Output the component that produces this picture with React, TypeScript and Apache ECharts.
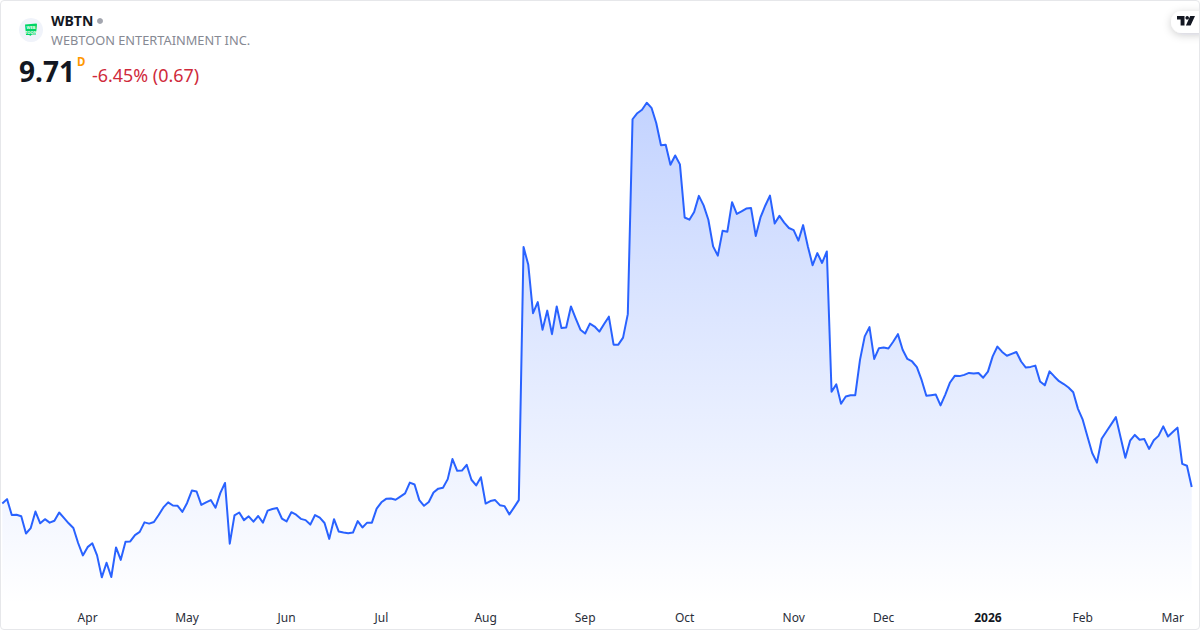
import React, { useEffect, useRef } from "react";
import * as echarts from "echarts";

const ticker = "WBTN";
const companyName = "WEBTOON ENTERTAINMENT INC.";
const lastPrice = "9.71";
const interval = "D";
const changeText = "-6.45% (0.67)";

const pricesA = [
  9.19, 9.33, 8.83, 8.84, 8.79, 8.25, 8.42, 8.94, 8.57, 8.7, 8.59, 8.65, 8.91, 8.74, 8.57, 8.42, 7.95, 7.56, 7.82, 7.94,
  7.56, 6.87, 7.33, 6.88, 7.81, 7.42, 7.99, 8.0, 8.2, 8.3, 8.6, 8.56, 8.61, 8.83, 9.07, 9.23, 9.13, 9.12, 8.93, 9.21,
  9.6, 9.57, 9.15, 9.23, 9.3, 9.06, 9.52, 9.84, 7.93, 8.82, 8.91, 8.67, 8.79, 8.62, 8.8, 8.59, 8.97, 9.02, 9.05, 8.72,
  8.63, 8.92, 8.84, 8.71, 8.67, 8.53, 8.83, 8.75, 8.58, 8.08, 8.7, 8.31, 8.28, 8.26, 8.28, 8.64, 8.44, 8.59, 8.59, 9.03,
  9.23, 9.34, 9.35, 9.31, 9.41, 9.51, 9.85, 9.79, 9.3, 9.12, 9.24, 9.54, 9.66, 9.69, 9.96, 10.59, 10.22, 10.23, 10.41, 9.94,
  9.76, 10.02, 9.19, 9.27, 9.3, 9.14, 9.11, 8.85, 9.07, 9.3,
];
const pricesB = [
  17.26, 16.7, 15.18, 15.53, 14.66, 15.26, 14.52, 15.39, 14.71, 14.73, 15.39, 15.02, 14.66, 14.54, 14.85, 14.76, 14.6, 14.84, 15.07, 14.19,
  14.19, 14.41, 15.15, 21.28, 21.47, 21.58, 21.8, 21.64, 21.16, 20.46, 20.48, 19.85, 20.14, 19.86, 18.19, 18.12, 18.36, 18.87, 18.57, 18.12,
  17.28, 16.99, 17.77, 17.74, 18.67, 18.3, 18.38, 18.47, 18.49, 17.61, 18.19, 18.56, 18.88, 18.0, 18.24, 18.03, 17.86, 17.79, 17.46, 17.95,
  17.28, 16.69, 17.07, 16.76, 17.12,
];
const pricesC = [
  12.71, 12.94, 12.33, 12.56, 12.6, 12.6, 13.71, 14.45, 14.74, 13.74, 14.08, 14.1, 14.07, 14.28, 14.52, 14.03, 13.74, 13.66, 13.48, 13.08,
  12.58, 12.6, 12.62, 12.28, 12.62, 13.0, 13.21, 13.2, 13.24, 13.3, 13.28, 13.3, 13.15, 13.34, 13.82, 14.13, 13.96, 13.84, 13.9, 13.96,
  13.66, 13.47, 13.49, 13.53, 13.03, 12.91, 13.35, 13.19, 13.04, 12.95, 12.84, 12.69, 12.17, 11.83, 11.3, 10.78, 10.48, 11.23, 11.46, 11.68,
  11.91, 11.27, 10.63, 11.17, 11.35, 11.2, 11.22, 10.91, 11.18, 11.32, 11.62, 11.3, 11.44, 11.58, 10.44, 10.38, 9.71,
];
const prices = [...pricesA, ...pricesB, ...pricesC];
const sessions = prices.map((_, i) => String(i));

const tickSessions = [18, 39, 60, 80, 102, 123, 144, 167, 186, 208, 228, 247];
const tickLabels = ["Apr", "May", "Jun", "Jul", "Aug", "Sep", "Oct", "Nov", "Dec", "2026", "Feb", "Mar"];
const boldTicks = ["2026"];

const FONT = '"Noto Sans", sans-serif';

echarts.graphic.registerShape(
  "tvMark",
  echarts.graphic.extendPath(
    "M0 0H7.5V9.5H3.6V3.6H0ZM10.2 0A1.8 1.8 0 1 1 10.19 0ZM13.2 0H18L13.6 9.5H8.9Z",
    {}
  )
);

export default function App() {
  const ref = useRef<HTMLDivElement>(null);
  useEffect(() => {
    document.body.style.margin = "0";
    const chart = echarts.init(ref.current!, null, { renderer: "svg" });
    chart.setOption({
      animation: false,
      backgroundColor: "#ffffff",
      grid: { left: 2.3, right: 8.3, top: 1, bottom: 25, containLabel: false },
      xAxis: {
        type: "category",
        data: sessions,
        boundaryGap: false,
        axisLine: { show: false },
        axisTick: { show: false },
        splitLine: { show: false },
        axisLabel: {
          margin: 6,
          fontFamily: FONT,
          fontSize: 12,
          color: "#2a2e39",
          hideOverlap: false,
          interval: (i: number) => tickSessions.includes(i),
          formatter: (_v: string, i: number) => {
            const label = tickLabels[tickSessions.indexOf(i)] ?? "";
            return boldTicks.includes(label) ? `{b|${label}}` : label;
          },
          rich: { b: { fontFamily: FONT, fontSize: 12, fontWeight: 700, color: "#131722" } },
        },
      },
      yAxis: {
        type: "value",
        min: 6,
        max: 25,
        show: false,
        splitLine: { show: false },
      },
      series: [
        {
          type: "line",
          data: prices,
          showSymbol: false,
          symbol: "none",
          smooth: false,
          lineStyle: { color: "#2962ff", width: 2, join: "round" },
          areaStyle: {
            opacity: 1,
            color: new echarts.graphic.LinearGradient(0, 0, 0, 1, [
              { offset: 0, color: "rgba(41,98,255,0.28)" },
              { offset: 1, color: "rgba(41,98,255,0)" },
            ]),
          },
          silent: true,
        },
      ],
      graphic: [
        { type: "circle", shape: { cx: 31, cy: 30, r: 12 }, style: { fill: "#f0f3fa" } },
        {
          type: "polygon",
          shape: { points: [[25, 24.5], [36.5, 23.5], [37, 24.5], [36, 34.5], [32, 34.5], [30, 36], [29.5, 35], [26, 35]] },
          style: { fill: "#00d564" },
        },
        { type: "text", x: 31, y: 27.8, style: { text: "WEB", fill: "#ffffff", font: `700 4px ${FONT}`, align: "center", verticalAlign: "middle" } },
        { type: "text", x: 31, y: 32, style: { text: "TOON", fill: "#ffffff", font: `700 4px ${FONT}`, align: "center", verticalAlign: "middle" } },
        { type: "text", x: 51, y: 20.5, style: { text: ticker, fill: "#131722", font: `700 14px ${FONT}`, verticalAlign: "middle" } },
        { type: "circle", shape: { cx: 100, cy: 21, r: 3 }, style: { fill: "#a3a6af" } },
        { type: "text", x: 51, y: 40, style: { text: companyName, fill: "#868993", font: `400 12.8px ${FONT}`, verticalAlign: "middle" } },
        { type: "text", x: 19, y: 71, style: { text: lastPrice, fill: "#131722", font: `700 28px ${FONT}`, verticalAlign: "middle" } },
        { type: "text", x: 77, y: 61, style: { text: interval, fill: "#ff9800", font: `700 11.5px ${FONT}`, verticalAlign: "middle" } },
        { type: "text", x: 92, y: 74.5, style: { text: changeText, fill: "#cf2a3b", font: `400 17.9px ${FONT}`, verticalAlign: "middle" } },
        {
          type: "rect",
          shape: { x: 1171, y: 11, width: 40, height: 22, r: 11 },
          style: { fill: "#ffffff", shadowBlur: 9, shadowColor: "rgba(19,23,34,0.2)", shadowOffsetY: 2 },
        },
        { type: "tvMark", x: 1177, y: 16, style: { fill: "#131722" } },
      ],
    });
    return () => chart.dispose();
  }, []);
  return (
    <div style={{ position: "fixed", left: 0, top: 0, width: 1200, height: 630, background: "#fff" }}>
      <div ref={ref} style={{ position: "absolute", left: 0, top: 0, width: 1200, height: 630 }} />
      <div
        style={{
          position: "absolute",
          left: 0,
          top: 0,
          width: 1198,
          height: 628,
          border: "1px solid #e6e7ea",
          borderRadius: 4,
          pointerEvents: "none",
        }}
      />
    </div>
  );
}
